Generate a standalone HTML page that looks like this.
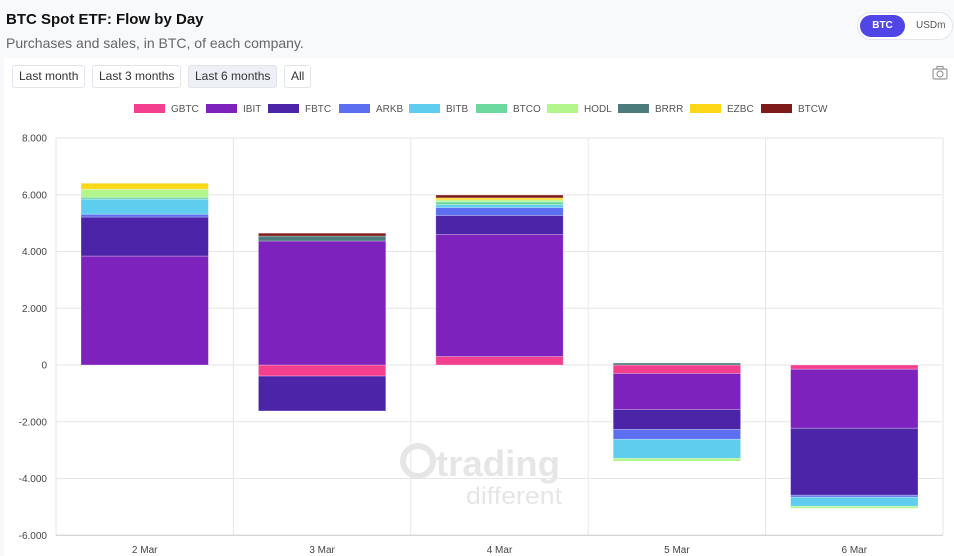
<!DOCTYPE html>
<html><head><meta charset="utf-8"><style>
body{margin:0;width:954px;height:556px;background:#f8f9fb;font-family:"Liberation Sans",sans-serif;position:relative;overflow:hidden}
.t{position:absolute;left:6px;top:11px;font-size:15px;font-weight:bold;color:#111}
.s{position:absolute;left:6px;top:35px;font-size:14px;color:#666}
.tog{position:absolute;left:857px;top:12px;width:94px;height:26px;border:1px solid #e2e4ea;border-radius:14px;background:#fff}
.tog .on{position:absolute;left:2px;top:2px;width:45px;height:22px;border-radius:12px;background:#4f46e5;color:#fff;font-size:10px;font-weight:bold;text-align:center;line-height:22px}
.tog .off{position:absolute;left:58px;top:2px;font-size:10px;color:#555;line-height:22px}
.panel{position:absolute;left:4px;top:58px;width:950px;height:498px;background:#fff}
.btn{position:absolute;top:65px;height:21px;border:1px solid #e2e4ea;border-radius:3px;background:#fff;font-size:12px;color:#333;line-height:21px;padding:0 6px}
</style></head><body>
<div class="t">BTC Spot ETF: Flow by Day</div>
<div class="s">Purchases and sales, in BTC, of each company.</div>
<div class="tog"><div class="on">BTC</div><div class="off">USDm</div></div>
<div class="panel"></div>
<div class="btn" style="left:12px">Last month</div>
<div class="btn" style="left:92px">Last 3 months</div>
<div class="btn" style="left:188px;background:#eef0f8">Last 6 months</div>
<div class="btn" style="left:284px">All</div>
<svg style="position:absolute;left:0;top:0" width="954" height="556" id="svg">
<g fill="none" stroke="#999" stroke-width="1.2"><rect x="933" y="69" width="14" height="10" rx="1.5"/><circle cx="940" cy="74" r="3"/><rect x="937" y="66.5" width="6" height="2.5"/></g>
<g fill="#e6e6e6" font-family="Liberation Sans" font-weight="bold"><circle cx="418" cy="461" r="15" fill="none" stroke="#e6e6e6" stroke-width="6"/><text x="436" y="476" font-size="36" textLength="124" lengthAdjust="spacingAndGlyphs">trading</text><text x="466" y="504" font-size="24" font-weight="normal" textLength="96" lengthAdjust="spacingAndGlyphs">different</text></g>
</svg>
<script>
const categories=["2 Mar","3 Mar","4 Mar","5 Mar","6 Mar"];
const seriesNames=["GBTC","IBIT","FBTC","ARKB","BITB","BTCO","HODL","BRRR","EZBC","BTCW"];
const seriesColors=["#f43f8e","#7e22bd","#4c24a8","#5b6ff0","#5ecdee","#6cd89e","#b2f58a","#4b7b7b","#fcd718","#7f1a1a"];
const GBTC=[0,-390,300,-300,-150];
const IBIT=[3840,4370,4300,-1270,-2080];
const FBTC=[1375,-1230,670,-700,-2360];
const ARKB=[100,0,280,-350,-70];
const BITB=[530,0,100,-670,-320];
const BTCO=[70,0,100,0,0];
const HODL=[280,0,70,-100,-70];
const BRRR=[0,175,0,70,0];
const EZBC=[210,0,70,0,0];
const BTCW=[0,100,100,0,0];
const yTicks=[8000,6000,4000,2000,0,-2000,-4000,-6000];
const yTickLabels=["8.000","6.000","4.000","2.000","0","-2.000","-4.000","-6.000"];
const series=[GBTC,IBIT,FBTC,ARKB,BITB,BTCO,HODL,BRRR,EZBC,BTCW];
const NS="http://www.w3.org/2000/svg",svg=document.getElementById('svg');
const X0=56,X1=943,Y8=138,Y0=365;
const y=v=>Y0-(v/8000)*(Y0-Y8);
const bw=(X1-X0)/categories.length;
const x=i=>X0+bw*i;
const g=document.createElementNS(NS,'g');svg.appendChild(g);
function add(t,a,txt){const e=document.createElementNS(NS,t);for(const k in a)e.setAttribute(k,a[k]);if(txt!=null)e.textContent=txt;g.appendChild(e);return e;}
yTicks.forEach((v,i)=>{
 const l=add('line',{x1:X0,x2:X1,y1:y(v),y2:y(v),stroke:'#e6e6e6'});
 
 
 const t=add('text',{x:47,y:y(v)+3.5,'text-anchor':'end','font-size':10,fill:'#444'},yTickLabels[i]);
 
 
});
for(let i=0;i<=categories.length;i++){
 const l=add('line',{x1:x(i),x2:x(i),y1:Y8,y2:y(-6000),stroke:'#e6e6e6'});
 
 
}
const xl=add('line',{x1:X0,x2:X1,y1:y(-6000),y2:y(-6000),stroke:'#ccc'});


categories.forEach((c,i)=>{
 const t=add('text',{x:x(i)+bw/2,y:553,'text-anchor':'middle','font-size':10,fill:'#444'},c);
 
 
 let pos=0,neg=0;
 series.forEach((s,k)=>{
  const v=s[i];if(!v)return;
  let a,b;
  if(v>0){a=pos;pos+=v;b=pos;}else{a=neg;neg+=v;b=neg;}
  const r=add('rect',{x:x(i)+25,width:bw-50,y:Math.min(y(a),y(b)),height:Math.abs(y(a)-y(b)),fill:seriesColors[k],stroke:'rgba(255,255,255,0.35)','stroke-width':0.8});
  
  
 });
});
const lx=[134,206,268,339,409,476,547,618,690,761];
seriesNames.forEach((n,k)=>{
 const r=add('rect',{x:lx[k],y:104,width:31,height:9,fill:seriesColors[k]});
 
 
 const t=add('text',{x:lx[k]+37,y:112,'font-size':10,fill:'#555'},n);
 
 
});
</script>
</body></html>
